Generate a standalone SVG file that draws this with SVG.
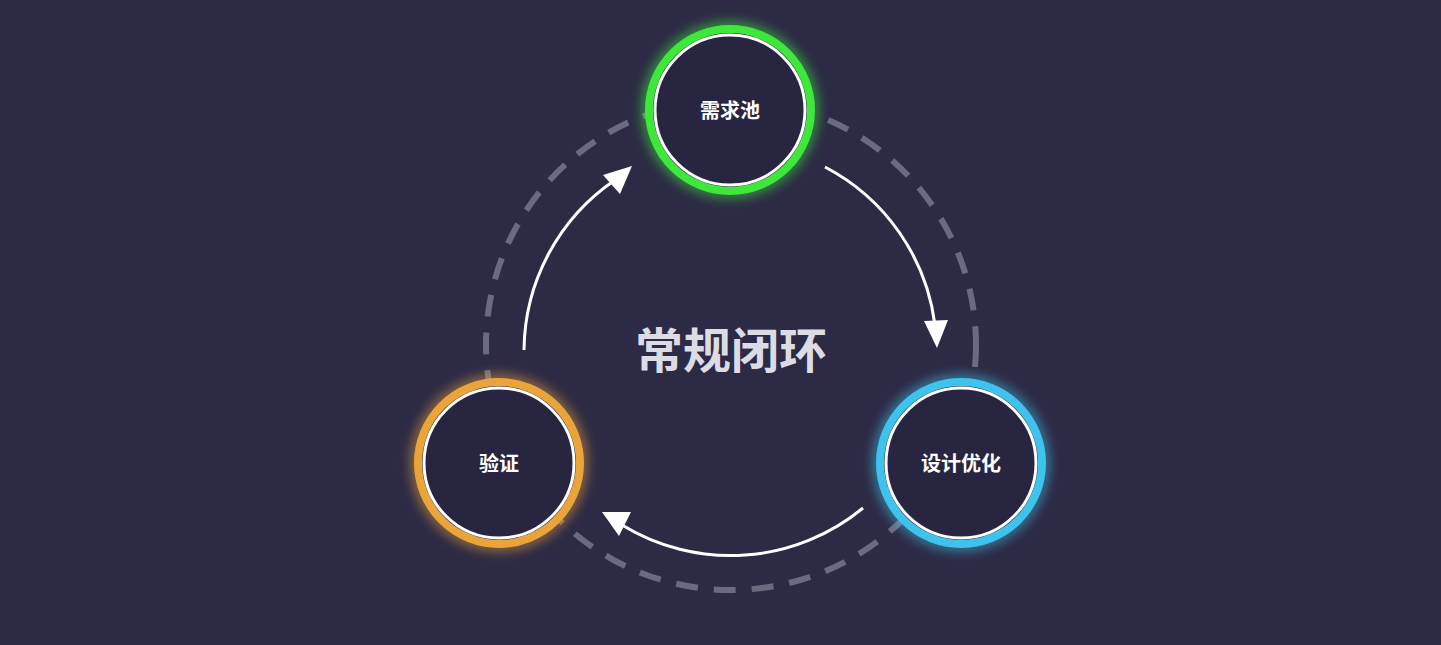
<svg xmlns="http://www.w3.org/2000/svg" width="1441" height="645" viewBox="0 0 1441 645">
<style>
.ring{fill:#27253f;stroke-width:8}
.inner{fill:none;stroke:#fff;stroke-width:3}
.lbl{font-family:"Noto Sans CJK SC",sans-serif;font-size:20px;font-weight:bold;fill:#fff;text-anchor:middle}
.arc{fill:none;stroke:#fff;stroke-width:3}
</style>
<defs>
<filter id="glow" x="-40%" y="-40%" width="180%" height="180%"><feGaussianBlur stdDeviation="6"/></filter>
<marker id="ah" viewBox="0 0 10 10" refX="8" refY="5" markerWidth="9" markerHeight="9" markerUnits="userSpaceOnUse" orient="auto" style="overflow:visible"><path d="M-12,-10 L12,5 L-12,20 Z" fill="#fff" transform="scale(1)"/></marker>
</defs>
<rect width="1441" height="645" fill="#2d2a45"/>
<circle cx="731" cy="345" r="245" fill="none" stroke="#6c6a80" stroke-width="6" stroke-dasharray="22 16"/>
<g id="connectors">
<path class="arc" d="M524,350 A208,208 0 0 1 615,180"/>
<polygon points="632,166 603,175 620,194" fill="#fff"/>
<path class="arc" d="M825,167 A208,208 0 0 1 935,325"/>
<polygon points="937,348 924,321 948,320" fill="#fff"/>
<path class="arc" d="M863,508 A208,208 0 0 1 622,525"/>
<polygon points="602,512 631,512 619,536" fill="#fff"/>
</g>
<text x="731" y="368" font-family="Noto Sans CJK SC,sans-serif" font-size="48" font-weight="bold" fill="#dcdce4" text-anchor="middle">常规闭环</text>
<g id="node-top">
<circle cx="730" cy="110" r="83" fill="none" stroke="#3ff03f" stroke-width="10" opacity="0.6" filter="url(#glow)"/>
<circle class="ring" cx="730" cy="110" r="81" stroke="#3ee83a"/>
<circle class="inner" cx="730" cy="110" r="75"/>
<text class="lbl" x="730" y="118">需求池</text>
</g>
<g id="node-left">
<circle cx="499" cy="463" r="83" fill="none" stroke="#f0a83a" stroke-width="10" opacity="0.6" filter="url(#glow)"/>
<circle class="ring" cx="499" cy="463" r="81" stroke="#eba43a"/>
<circle class="inner" cx="499" cy="463" r="75"/>
<text class="lbl" x="499" y="471">验证</text>
</g>
<g id="node-right">
<circle cx="961" cy="463" r="83" fill="none" stroke="#40c8f0" stroke-width="10" opacity="0.6" filter="url(#glow)"/>
<circle class="ring" cx="961" cy="463" r="81" stroke="#3ec4ec"/>
<circle class="inner" cx="961" cy="463" r="75"/>
<text class="lbl" x="961" y="471">设计优化</text>
</g>
</svg>
